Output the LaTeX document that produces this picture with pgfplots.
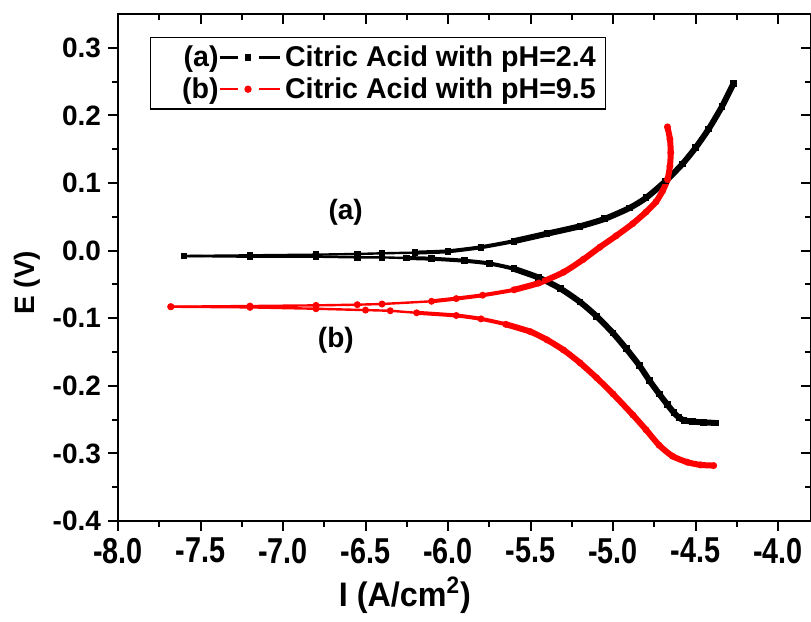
\documentclass[border=0pt]{standalone}
\usepackage{fontspec}
\setmainfont{Liberation Sans}
\usepackage{graphicx}
\usepackage{pgfplots}
\usepackage{pgfplotstable}
\pgfplotsset{compat=1.18}

\newcommand{\tlfont}{\bfseries\fontsize{14}{16}\selectfont}

% pH 2.4, cathodic and anodic branches
\pgfplotstableread{
x E
-4.38 -0.255
-4.45 -0.254
-4.52 -0.253
-4.57 -0.251
-4.60 -0.247
-4.63 -0.240
-4.67 -0.228
-4.72 -0.212
-4.78 -0.192
-4.84 -0.170
-4.92 -0.145
-5.00 -0.122
-5.10 -0.097
-5.20 -0.076
-5.32 -0.056
-5.45 -0.040
-5.60 -0.027
-5.75 -0.019
-5.90 -0.015
-6.10 -0.012
-6.25 -0.011
-6.40 -0.010
-6.55 -0.010
-6.80 -0.009
-7.20 -0.009
-7.60 -0.008
}\blacklow
\pgfplotstableread{
x E
-7.60 -0.008
-7.20 -0.007
-6.80 -0.006
-6.55 -0.005
-6.40 -0.004
-6.20 -0.003
-6.00 -0.001
-5.80 0.005
-5.60 0.014
-5.40 0.025
-5.20 0.036
-5.05 0.047
-4.90 0.063
-4.80 0.078
-4.68 0.103
-4.58 0.128
-4.50 0.152
-4.42 0.180
-4.34 0.213
-4.27 0.247
}\blackup
% pH 9.5
\pgfplotstableread{
x E
-4.39 -0.318
-4.47 -0.317
-4.55 -0.313
-4.64 -0.304
-4.72 -0.288
-4.80 -0.265
-4.88 -0.243
-5.00 -0.212
-5.10 -0.188
-5.20 -0.166
-5.30 -0.147
-5.40 -0.132
-5.50 -0.120
-5.65 -0.109
-5.80 -0.101
-5.95 -0.096
-6.19 -0.092
-6.35 -0.089
-6.50 -0.088
-6.80 -0.086
-7.20 -0.084
-7.68 -0.083
}\redlow
\pgfplotstableread{
x E
-7.68 -0.083
-7.20 -0.082
-6.80 -0.081
-6.55 -0.080
-6.40 -0.079
-6.10 -0.075
-5.95 -0.071
-5.79 -0.066
-5.60 -0.058
-5.45 -0.048
-5.30 -0.032
-5.18 -0.013
-5.08 0.005
-4.98 0.022
-4.88 0.040
-4.80 0.057
-4.74 0.072
-4.70 0.088
-4.67 0.105
-4.655 0.125
-4.65 0.145
-4.655 0.165
-4.67 0.183
}\redup

\pgfplotsset{
  frame/.style={scale only axis, width=346.5pt, height=253.5pt,
    xmin=-8, xmax=-3.8, ymin=-0.4, ymax=0.35,
    xtick={-8,-7.5,-7,-6.5,-6,-5.5,-5,-4.5,-4},
    ytick={-0.4,-0.3,-0.2,-0.1,0,0.1,0.2,0.3},
    minor x tick num=1, minor y tick num=1,
    axis line style={line width=1pt},
    major tick style={line width=1pt,black},
    minor tick style={line width=1pt,black},
    major tick length=5pt, minor tick length=3pt},
  thin/.style={line width=1.2pt, mark size=1.1pt},
  medium/.style={line width=2pt, mark=none, smooth, tension=0.4,
    restrict x to domain=-6.3:-3, forget plot},
  thick/.style={line width=3pt, mark=none, smooth, tension=0.4,
    restrict x to domain=-5.65:-3, forget plot},
}

\begin{document}
\begin{tikzpicture}
\begin{axis}[frame, name=ax,
  tick align=outside, xtick pos=lower, ytick pos=left,
  xticklabel={\scalebox{0.8}[1]{\bfseries\fontsize{18}{20}\selectfont\pgfmathprintnumber[fixed,fixed zerofill,precision=1,assume math mode=true]{\tick}}},
  yticklabel={\tlfont\pgfmathprintnumber[fixed,fixed zerofill,precision=1,assume math mode=true]{\tick}},
  xlabel={\scalebox{0.95}[1]{\bfseries\fontsize{17}{19}\selectfont I (A/cm\textsuperscript{2})}},
  ylabel={\bfseries\fontsize{14}{16}\selectfont E (V)},
  every axis x label/.style={at={(axis description cs:0.414,-0.146)},anchor=center},
  every axis y label/.style={at={(axis description cs:-0.131,0.47)},rotate=90,anchor=center},
  legend style={at={(axis description cs:0.0462,0.9546)}, anchor=north west,
    draw=black, line width=0.6pt, inner xsep=3pt, inner ysep=2pt,
    font=\bfseries\fontsize{14.3}{16}\selectfont, cells={anchor=west}},
]
\addplot[black, thin, mark=square*,
  legend image code/.code={
    \path (-31pt,0pt);
    \node[anchor=east, inner sep=0pt, text=black, font=\bfseries\fontsize{14.3}{16}\selectfont] at (0pt,0pt) {(a)};
    \draw[black, line width=1.2pt] (0pt,0pt) -- (9pt,0pt);
    \fill[black] (13pt,-1.1pt) rectangle (15.2pt,1.1pt);
    \draw[black, line width=1.2pt] (19.5pt,0pt) -- (30pt,0pt);
  }] table {\blacklow};
\addlegendentry{Citric Acid with pH=2.4}
\addplot[red, thin, mark=*,
  legend image code/.code={
    \path (-31pt,0pt);
    \node[anchor=east, inner sep=0pt, text=black, font=\bfseries\fontsize{14.3}{16}\selectfont] at (0pt,0pt) {(b)};
    \draw[red, line width=1.2pt] (0pt,0pt) -- (9pt,0pt);
    \fill[red] (14.1pt,0pt) circle (1.2pt);
    \draw[red, line width=1.2pt] (19.5pt,0pt) -- (30pt,0pt);
  }] table {\redlow};
\addlegendentry{Citric Acid with pH=9.5}
\addplot[black, thin, mark=square*, forget plot] table {\blackup};
\addplot[red, thin, mark=*, forget plot] table {\redup};
\addplot[black, medium] table {\blacklow};
\addplot[black, medium] table {\blackup};
\addplot[red, medium] table {\redlow};
\addplot[red, medium] table {\redup};
\addplot[black, thick] table {\blacklow};
\addplot[black, thick] table {\blackup};
\addplot[red, thick] table {\redlow};
\addplot[red, thick] table {\redup};
\node[font=\bfseries\fontsize{14}{16}\selectfont] at (axis cs:-6.62,0.056) {(a)};
\node[font=\bfseries\fontsize{14}{16}\selectfont] at (axis cs:-6.68,-0.133) {(b)};
\end{axis}
\begin{axis}[frame, tick align=inside, xtick pos=upper, ytick pos=right,
  xticklabels={}, yticklabels={}]
\end{axis}
\pgfresetboundingbox
\path ([shift={(-59pt,-50pt)}]ax.south west) rectangle ([yshift=7pt]ax.north east);
\end{tikzpicture}
\end{document}
